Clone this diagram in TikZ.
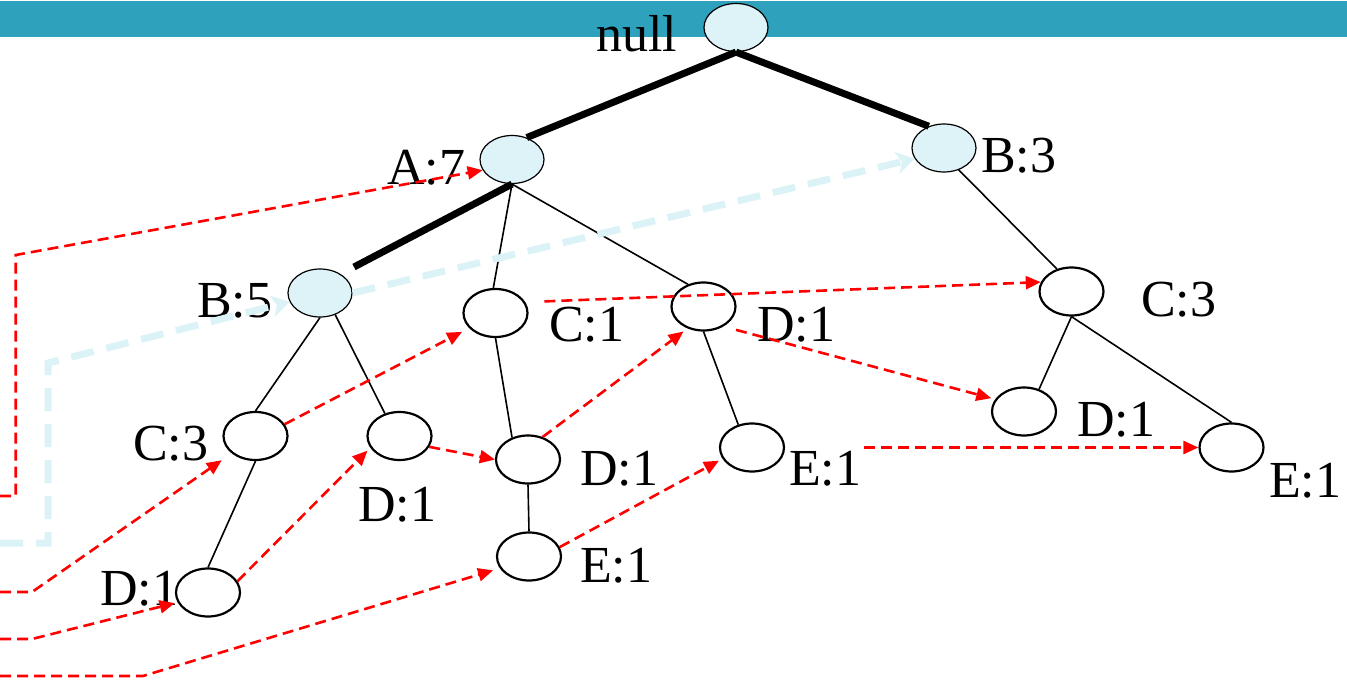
\documentclass[tikz,border=0pt]{standalone}
\usepackage{fontspec}
\setmainfont{Liberation Serif}
\usetikzlibrary{shapes.geometric,arrows.meta,calc}
\definecolor{barteal}{RGB}{46,161,189}
\definecolor{headfill}{RGB}{221,243,248}
\definecolor{linkcyan}{RGB}{219,242,247}
\begin{document}
\begin{tikzpicture}[x=1pt,y=-1pt,
  lbl/.style={anchor=base west, inner sep=0pt, font=\fontsize{52}{60}\selectfont},
  item/.style={ellipse, draw=black, line width=2.2pt, fill=white,
    minimum width=64pt, minimum height=48pt, inner sep=0pt},
  headitem/.style={item, fill=headfill, line width=1.2pt},
  branch/.style={line width=1.6pt},
  heavy/.style={line width=7pt},
  link/.style={draw=red, line width=2.6pt, dash pattern=on 11pt off 6pt,
    -{Triangle[length=15pt,width=13pt]}},
  cyanlink/.style={draw=linkcyan, line width=7pt, dash pattern=on 23pt off 13pt,
    -{Stealth[length=18pt,width=22pt,inset=5pt]}}
]
\useasboundingbox (0,0) rectangle (1347,698);
% header band
\fill[barteal] (0,1) rectangle (1347,37);

% labels
\node[lbl] (lnull) at (596,52) {null};
\node[lbl] (lA7) at (387,185) {A:7};
\node[lbl] (lB3) at (981,172.5) {B:3};
\node[lbl] (lB5) at (197,317) {B:5};
\node[lbl] (lC1) at (549,341) {C:1};
\node[lbl] (lD1a) at (757,341) {D:1};
\node[lbl] (lC3r) at (1141,316.5) {C:3};
\node[lbl] (lC3l) at (133,460) {C:3};
\node[lbl] (lD1b) at (358,521) {D:1};
\node[lbl] (lD1m) at (580,485) {D:1};
\node[lbl] (lE1a) at (789,485) {E:1};
\node[lbl] (lD1r) at (1077,436.5) {D:1};
\node[lbl] (lE1r) at (1269,497) {E:1};
\node[lbl] (lD1c) at (100,605) {D:1};
\node[lbl] (lE1m) at (580,582) {E:1};

% tree nodes
\node[headitem] (root) at (736,27.5) {};
\node[headitem] (A7) at (512,159.5) {};
\node[headitem] (B3) at (944,148) {};
\node[headitem] (B5) at (320,293) {};
\node[item] (C1) at (495.5,313) {};
\node[item] (D1a) at (703.5,306.5) {};
\node[item] (C3r) at (1071.5,291.5) {};
\node[item] (C3l) at (255.5,436) {};
\node[item] (D1b) at (399.5,436) {};
\node[item] (D1m) at (528,459.5) {};
\node[item] (E1a) at (752,447.5) {};
\node[item] (D1r) at (1024,411.5) {};
\node[item] (E1r) at (1231.5,447.5) {};
\node[item] (D1c) at (208,592.5) {};
\node[item] (E1m) at (529,556.5) {};

% tree edges
\draw[heavy] (root.south) -- (A7.56);
\draw[heavy] (root.south) -- (B3.125);
\draw[heavy] (A7.south) -- ($(B5.center)+(34,-26)$);
\draw[branch] (A7.south) -- (C1.95);
\draw[branch] (A7.south) -- (D1a.125);
\draw[branch] (B3.-56) -- (C3r.123);
\draw[branch] (B5.south) -- (C3l.north);
\draw[branch] (B5.-55) -- (D1b.123);
\draw[branch] (C3l.south) -- (D1c.north);
\draw[branch] (C1.south) -- (D1m.126);
\draw[branch] (D1a.south) -- (E1a.121);
\draw[branch] (D1m.south) -- (E1m.north);
\draw[branch] (C3r.south) -- (D1r.56);
\draw[branch] (C3r.south) -- (E1r.north);

% node links between equal items
\draw[link, shorten >=8pt] (C3l.22) -- (C1.210);
\draw[link, shorten >=4pt] (D1c.21) -- (D1b.202);
\draw[link] (D1b.-20) -- (D1m.west);
\draw[link, shorten >=5pt] (D1m.57) -- (D1a.234);
\draw[link, shorten >=4pt] (E1m.17) -- (E1a.201);
\draw[link, shorten <=19pt] (C1.20) -- (C3r.163);
\draw[link, shorten <=13pt, shorten >=4pt] (D1a.-45) -- (D1r.157);
\draw[link, shorten <=79pt] (E1a.east) -- (E1r.west);

% header table pointers
\coordinate (hA0) at (0,496);
\coordinate (hA1) at (15.7,496);
\coordinate (hA2) at (15.7,255);
\draw[link] (hA0) -- (hA1) -- (hA2) -- (A7.200);

\coordinate (hC0) at (0,592);
\coordinate (hC1) at (32,592);
\draw[link, shorten >=12pt] (hC0) -- (hC1) -- (C3l.216);

\coordinate (hD0) at (0,639);
\coordinate (hD1) at (32,639);
\draw[link, shorten >=3pt] (hD0) -- (hD1) -- (D1c.198);

\coordinate (hE0) at (0,676);
\coordinate (hE1) at (143,676);
\draw[link, shorten >=7pt] (hE0) -- (hE1) -- (E1m.202);

\coordinate (hB0) at (0,543);
\coordinate (hB1) at (48,543);
\coordinate (hB2) at (48,363);
\draw[cyanlink] (hB0) -- (hB1) -- (hB2) -- (B5.196);
\draw[cyanlink] (B5.east) -- (B3.200);
\end{tikzpicture}
\end{document}
